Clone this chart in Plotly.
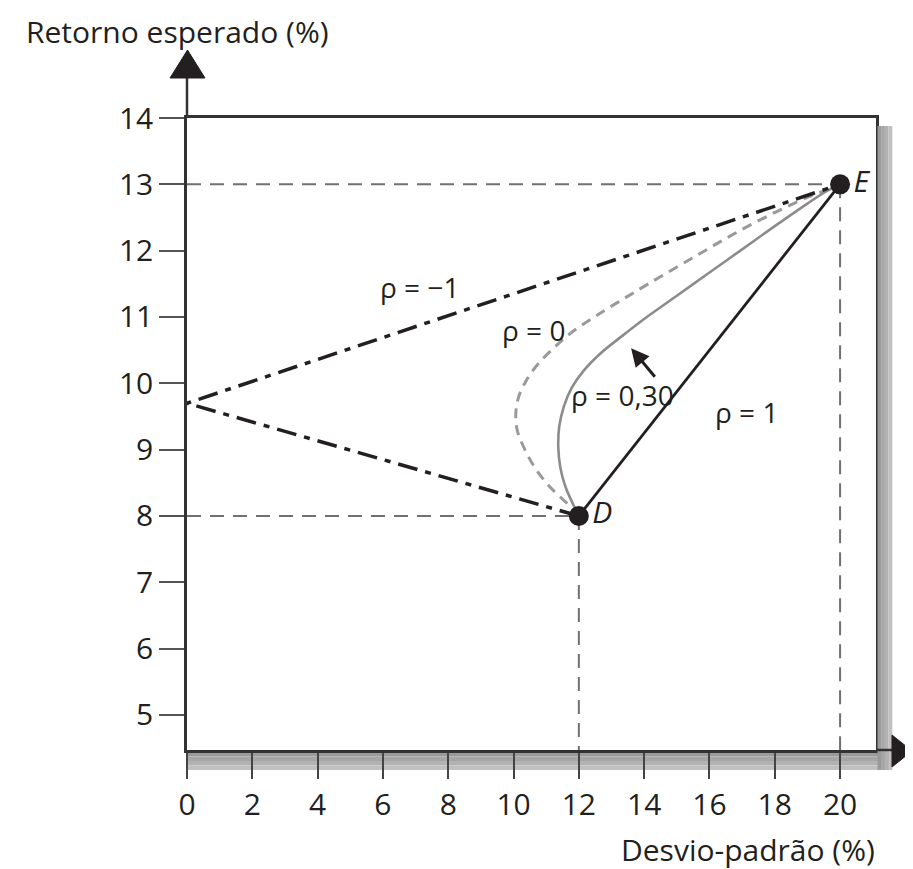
import plotly.graph_objects as go

# ---------------- data ----------------
x_ticks = [0, 2, 4, 6, 8, 10, 12, 14, 16, 18, 20]
y_ticks = [5, 6, 7, 8, 9, 10, 11, 12, 13, 14]

point_names = ["D", "E"]
point_sd = [12, 20]
point_ret = [8, 13]

# rho = -1 (dash-dot, goes through zero-risk portfolio)
rho_m1_sd = [12, 0, 20]
rho_m1_ret = [8, 9.7, 13]

# rho = 1 (straight line)
rho_1_sd = [12, 20]
rho_1_ret = [8, 13]

# rho = 0 (dashed grey curve)
rho_0_sd = [12.0, 11.64, 11.11, 10.64, 10.31, 10.11, 10.07, 10.16, 10.40, 10.73,
            11.16, 11.73, 12.44, 13.19, 14.13, 15.55, 16.85, 18.06, 19.03, 19.76, 20.0]
rho_0_ret = [8.0, 8.19, 8.44, 8.74, 9.04, 9.30, 9.55, 9.80, 10.05, 10.28,
             10.50, 10.75, 10.99, 11.22, 11.50, 11.91, 12.28, 12.59, 12.81, 12.95, 13.0]

# rho = 0,30 (solid grey curve)
rho_03_sd = [12.0, 11.83, 11.59, 11.43, 11.37, 11.40, 11.54, 11.78, 12.13, 12.66,
             13.29, 14.0, 15.0, 16.0, 17.0, 18.0, 19.0, 19.6, 20.0]
rho_03_ret = [8.0, 8.17, 8.44, 8.74, 9.04, 9.35, 9.65, 9.93, 10.18, 10.45,
              10.70, 10.97, 11.32, 11.67, 12.02, 12.37, 12.71, 12.90, 13.0]

curve_labels = ["ρ = −1", "ρ = 0", "ρ = 0,30", "ρ = 1"]

x_title = "Desvio-padrão (%)"
y_title = "Retorno esperado (%)"

# ---------------- layout geometry ----------------
# the page body has an 8px margin, so the figure is 8px smaller than the window
OFF = 8
W, H = 913 - OFF, 869 - OFF
L = 187 - OFF            # y axis at page x=187
T = 118 - OFF            # top of box at page y=118
PW, PH = 689, 632
R = W - L - PW
B = H - T - PH
XMAX = 21.10
YMIN, YMAX = 4.472, 14.0

# helpers: page pixel (reference picture) -> paper coordinates
def px(xp):
    return (xp - OFF - L) / PW

def py(yp):
    return (T + PH - (yp - OFF)) / PH

INK = "#231f20"
FONT = "Open Sans"

fig = go.Figure()

# dashed reference lines
ref_dash = "14px,9px"
ref_col = "#707070"
for sd, ret in zip(point_sd, point_ret):
    fig.add_trace(go.Scatter(x=[0, sd], y=[ret, ret], mode="lines",
                             line=dict(color=ref_col, width=2, dash=ref_dash),
                             hoverinfo="skip", showlegend=False))
    fig.add_trace(go.Scatter(x=[sd, sd], y=[ret, YMIN], mode="lines",
                             line=dict(color=ref_col, width=2, dash=ref_dash),
                             hoverinfo="skip", showlegend=False))

# curves
fig.add_trace(go.Scatter(x=rho_0_sd, y=rho_0_ret, mode="lines", line_shape="spline",
                         line=dict(color="#9a9a9a", width=3, dash="10px,7px"),
                         showlegend=False))
fig.add_trace(go.Scatter(x=rho_03_sd, y=rho_03_ret, mode="lines", line_shape="spline",
                         line=dict(color="#8c8c8c", width=2.6),
                         showlegend=False))
fig.add_trace(go.Scatter(x=rho_m1_sd, y=rho_m1_ret, mode="lines",
                         line=dict(color=INK, width=3.5, dash="20px,8px,6px,8px"),
                         showlegend=False))
fig.add_trace(go.Scatter(x=rho_1_sd, y=rho_1_ret, mode="lines",
                         line=dict(color=INK, width=2.8),
                         showlegend=False))
# points
fig.add_trace(go.Scatter(x=point_sd, y=point_ret, mode="markers+text",
                         marker=dict(color=INK, size=20),
                         text=point_names, textposition="middle right",
                         textfont=dict(family=FONT, size=30, color=INK, style="italic"),
                         showlegend=False, cliponaxis=False))

# curve labels (positions in data units)
label_pos = [(7.11, 11.45), (10.6, 10.80), (13.33, 9.82), (17.12, 9.57)]
for txt, (lx, ly) in zip(curve_labels, label_pos):
    fig.add_annotation(x=lx, y=ly, text=txt, showarrow=False,
                       font=dict(family=FONT, size=28, color=INK))

# arrow to rho = 0,30 curve
fig.add_annotation(x=13.6, y=10.53, ax=25, ay=30, text="", showarrow=True,
                   arrowhead=2, arrowsize=1.2, arrowwidth=3, arrowcolor=INK)

shapes = []
# shadow bands (bottom one below the axis ticks)
shadow_cols = ["#9a9a9a", "#a6a6a6", "#b2b2b2", "#c0c0c0"]
for i, c in enumerate(shadow_cols):
    shapes.append(dict(type="rect", xref="paper", yref="paper", layer="below",
                       x0=px(188), x1=px(892), y0=py(752 + i * 4.5), y1=py(752 + (i + 1) * 4.5),
                       line=dict(width=0), fillcolor=c))
for i, c in enumerate(shadow_cols):
    shapes.append(dict(type="rect", xref="paper", yref="paper", layer="above",
                       x0=px(877.5 + i * 3.7), x1=px(877.5 + (i + 1) * 3.7), y0=py(770), y1=py(126),
                       line=dict(width=0), fillcolor=c))
# y axis extension and arrow
shapes.append(dict(type="line", xref="paper", yref="paper", x0=0, x1=0,
                   y0=1, y1=py(76), line=dict(color="#333333", width=2.5)))
shapes.append(dict(type="path", xref="paper", yref="paper",
                   path=f"M {px(170)} {py(78)} L {px(205)} {py(78)} L {px(187.5)} {py(50)} Z",
                   fillcolor=INK, line=dict(color=INK, width=1)))
# x axis extension and arrow
shapes.append(dict(type="line", xref="paper", yref="paper", x0=1, x1=px(894),
                   y0=0, y1=0, line=dict(color="#333333", width=2.5)))
shapes.append(dict(type="path", xref="paper", yref="paper",
                   path=f"M {px(892)} {py(735)} L {px(892)} {py(767)} L {px(912)} {py(751)} Z",
                   fillcolor=INK, line=dict(color=INK, width=1)))

# axis titles
fig.add_annotation(xref="paper", yref="paper", x=px(24), y=py(9), text=y_title,
                   showarrow=False, xanchor="left", yanchor="top",
                   font=dict(family=FONT, size=30, color=INK))
fig.add_annotation(xref="paper", yref="paper", x=px(877), y=py(849), text=x_title,
                   showarrow=False, xanchor="right", yanchor="middle",
                   font=dict(family=FONT, size=30, color=INK))

fig.update_layout(
    width=W, height=H,
    margin=dict(l=L, r=R, t=T, b=B, pad=0),
    paper_bgcolor="white", plot_bgcolor="white",
    shapes=shapes,
    showlegend=False,
    xaxis=dict(range=[0, XMAX], tickvals=x_ticks, ticktext=[str(v) for v in x_ticks],
               showgrid=False, zeroline=False, showline=True, linecolor="#333333",
               linewidth=2.5, mirror=True, ticks="outside", ticklen=26, tickwidth=2,
               tickcolor="#444444", tickfont=dict(family=FONT, size=30, color=INK)),
    yaxis=dict(range=[YMIN, YMAX], tickvals=y_ticks, ticktext=[str(v) for v in y_ticks],
               showgrid=False, zeroline=False, showline=True, linecolor="#333333",
               linewidth=2.5, mirror=True, ticks="outside", ticklen=25, tickwidth=2,
               tickcolor="#555555", tickfont=dict(family=FONT, size=30, color=INK)),
)

fig.write_html("out.html")
